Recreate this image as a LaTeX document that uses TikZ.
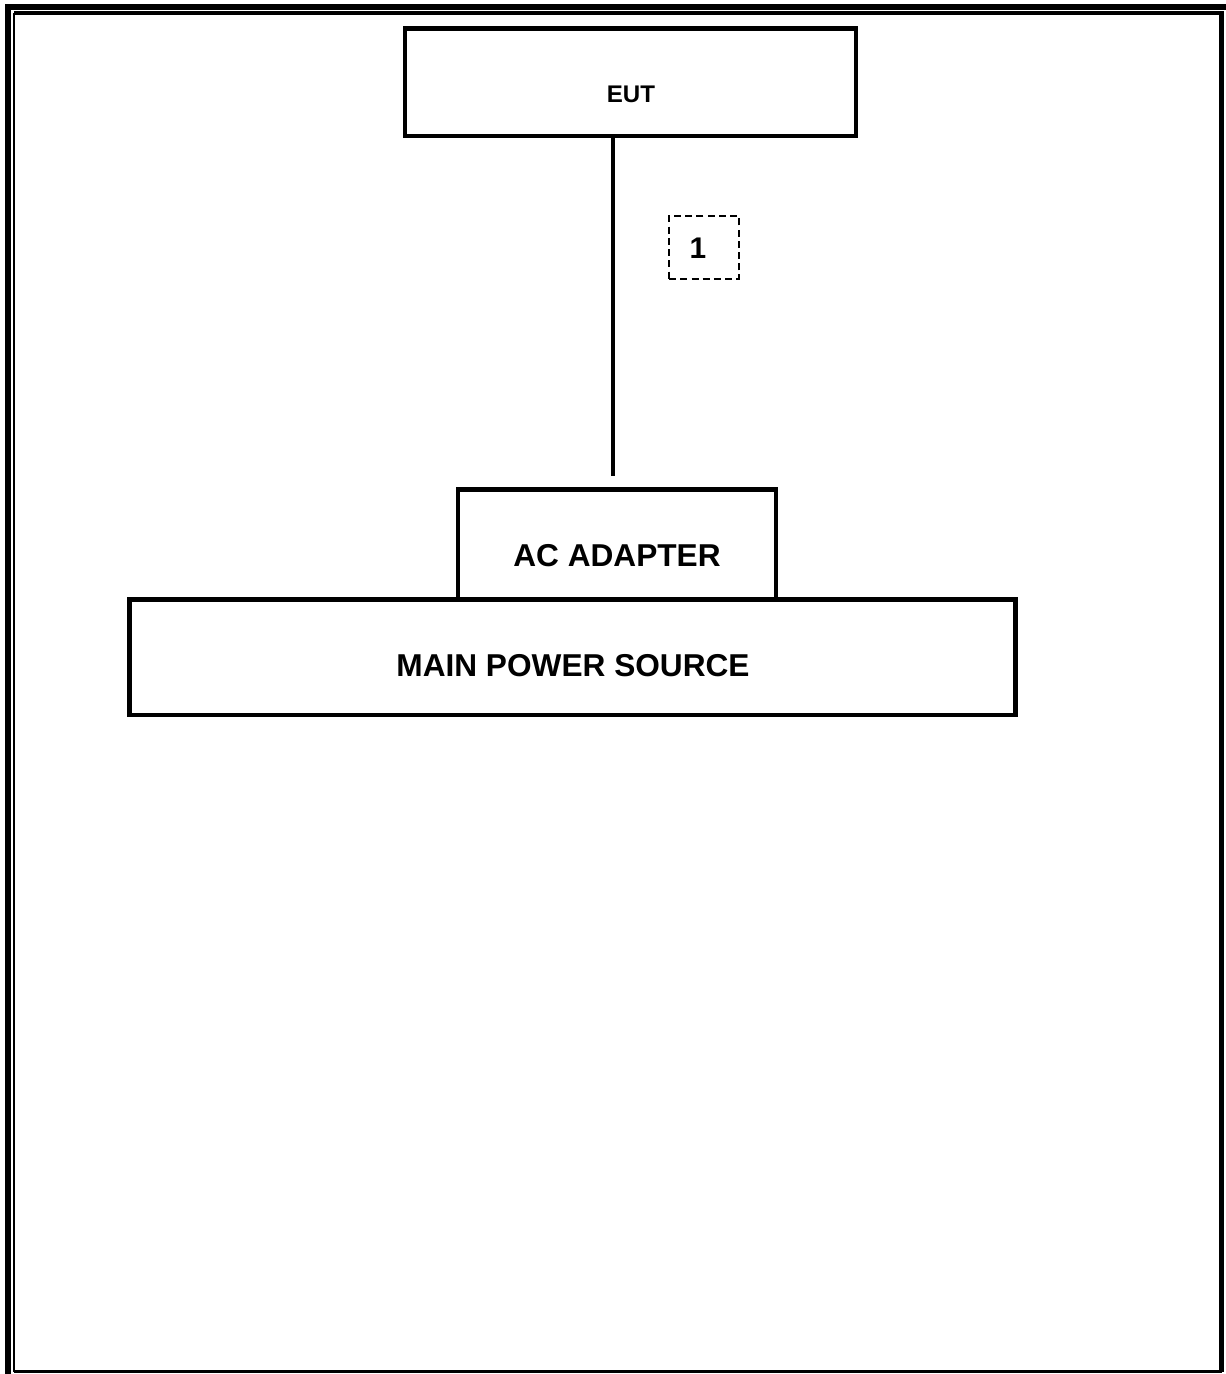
\documentclass[tikz,border=0pt]{standalone}
\usepackage{fontspec}
\setmainfont{Liberation Sans}
\begin{document}
\begin{tikzpicture}[x=0.02cm,y=-0.02cm,
    unit/.style={draw,line width=2.6pt,inner sep=0pt},
    tag/.style={draw,dash pattern=on 4pt off 2.4pt,line width=0.8pt,inner sep=0pt,
      minimum width=1.4cm,minimum height=1.26cm},
    lbl/.style={font=\bfseries\fontsize{18}{20}\selectfont}]
  \useasboundingbox (0,0) rectangle (1226,1374);
  % Page frame
  \draw[line width=3.6pt] (8,1374) -- (8,7) -- (1226,7);
  \draw[line width=1.5pt] (14,13) -- (14,1371.5);
  \draw[line width=1.7pt] (14,1371.5) -- (1221.5,1371.5);
  \draw[line width=2.8pt] (1221.5,1371.5) -- (1221.5,13) -- (14,13);
  % Units
  \node[unit,minimum width=9.02cm,minimum height=2.15cm] (eut) at (630.5,82.25) {};
  \node[unit,minimum width=6.36cm,minimum height=2.2cm] (adapter) at (617,544.5) {};
  \node[unit,minimum width=17.72cm,minimum height=2.31cm] (mains) at (572.5,657.25) {};
  \node[lbl,font=\bfseries\fontsize{13.7}{16}\selectfont] (euttxt) at (631,94) {EUT};
  \node[lbl] (adaptertxt) at (617,556) {AC ADAPTER};
  \node[lbl] (mainstxt) at (573,666) {MAIN POWER SOURCE};
  % Cable 1
  \coordinate (plugend) at (613,476);
  \draw[line width=2.3pt] (eut.south -| plugend) -- (plugend);
  \node[tag] (cable1) at (704,247.5) {};
  \node[lbl,font=\bfseries\fontsize{17}{20}\selectfont] (cable1txt) at (698,248) {1};
\end{tikzpicture}
\end{document}
